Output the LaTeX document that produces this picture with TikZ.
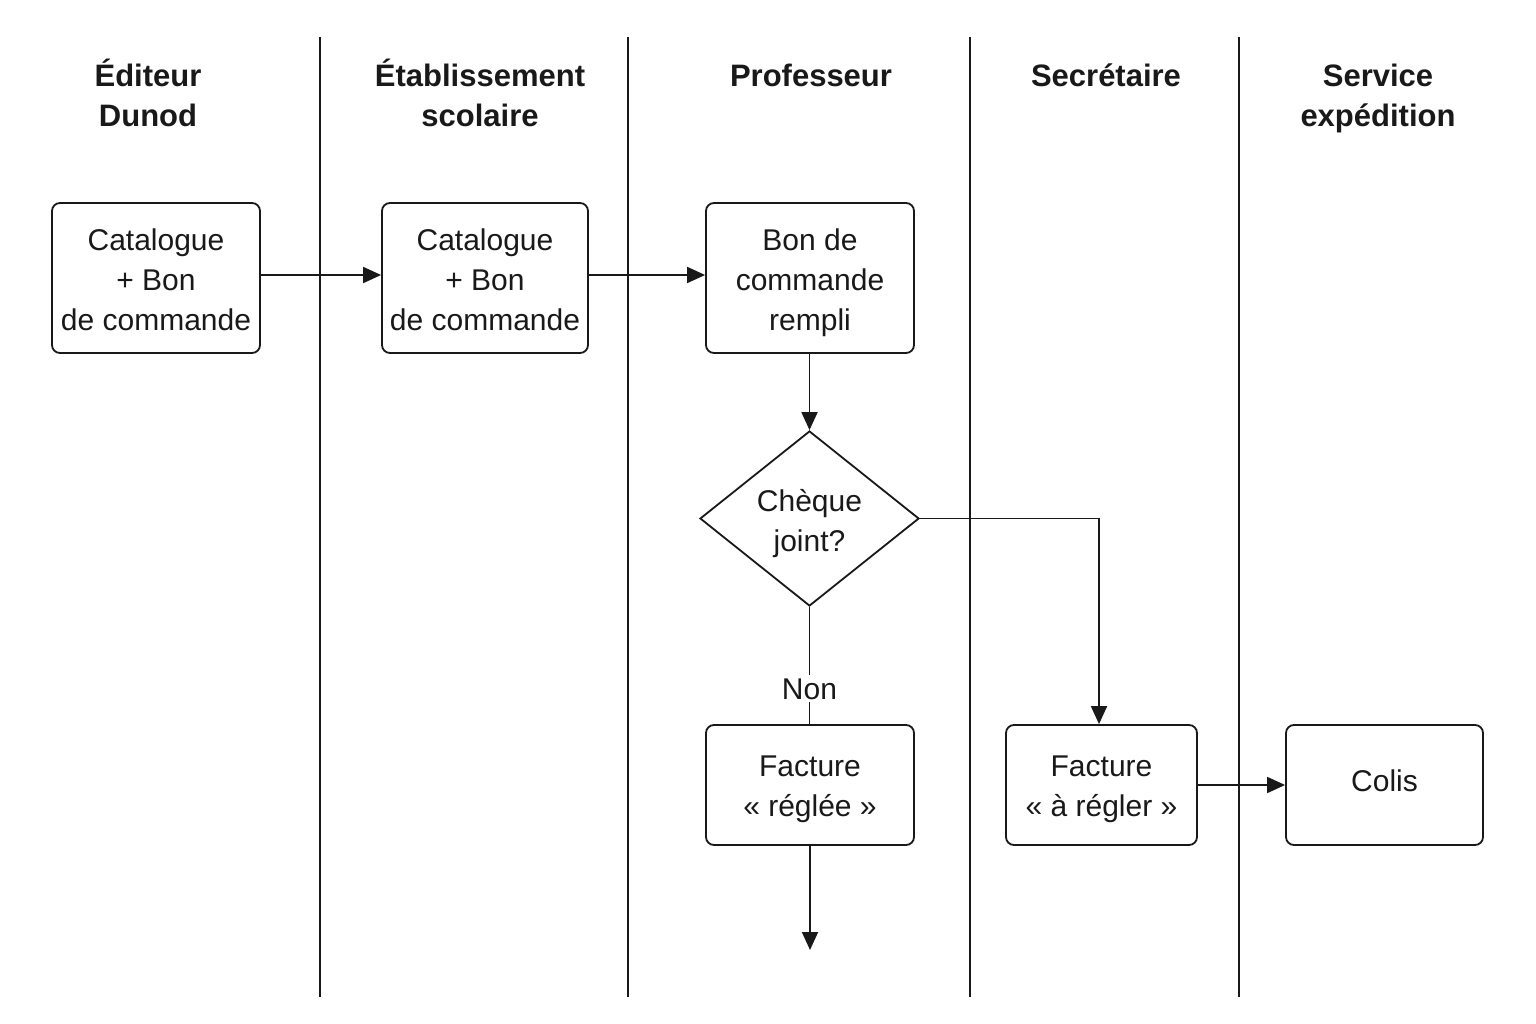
\documentclass[tikz,border=0pt]{standalone}
\usepackage{fontspec}
\setmainfont{Liberation Sans}
\usetikzlibrary{shapes.geometric,arrows.meta}
\begin{document}
\begin{tikzpicture}[x=1pt,y=-1pt,
  every node/.style={font=\fontsize{30}{40}\selectfont, text=black!90},
  lane/.style={line width=1.8pt, draw=black!90},
  head/.style={font=\fontsize{31}{40}\selectfont\bfseries, align=center, inner sep=0pt},
  lbl/.style={align=center, inner sep=0pt, font=\fontsize{30}{40}\selectfont},
  proc/.style={draw=black!90, line width=1.8pt, rounded corners=8pt, inner sep=0pt},
  choice/.style={draw=black!90, line width=1.8pt, diamond, inner sep=0pt, minimum width=219pt, minimum height=175pt},
  flow/.style={line width=1.8pt, draw=black!90, -{Triangle[length=18pt,width=16pt]}},
  plain/.style={line width=1.8pt, draw=black!90}
]
\useasboundingbox (0,0) rectangle (1536,1024);
\fill[white] (0,0) rectangle (1536,1024);

% lane separators
\foreach \x in {320,628,970,1239} \draw[lane] (\x,37) -- (\x,997);

% headings
\node[head] (h1) at (148,93) {Éditeur\\Dunod};
\node[head] (h2) at (480,93) {Établissement\\scolaire};
\node[head] (h3) at (811,75) {Professeur};
\node[head] (h4) at (1106,75) {Secrétaire};
\node[head] (h5) at (1378,98) {Service\\expédition};

% nodes
\node[proc, minimum width=208pt, minimum height=150pt,
  label={[lbl,yshift=-1.5pt]center:{Catalogue\\+ Bon\\de commande}}] (b1) at (156,278) {};
\node[proc, minimum width=206pt, minimum height=150pt,
  label={[lbl,yshift=-1.5pt]center:{Catalogue\\+ Bon\\de commande}}] (b2) at (485,278) {};
\node[proc, minimum width=208pt, minimum height=150pt,
  label={[lbl,yshift=-4.5pt]center:{Bon de\\commande\\rempli}}] (b3) at (810,278) {};
\node[choice, label={[lbl,yshift=-5pt]center:{Chèque\\joint?}}] (d) at (809.5,518.5) {};
\node[proc, minimum width=208pt, minimum height=120pt,
  label={[lbl,yshift=-4.5pt]center:{Facture\\« réglée »}}] (f1) at (810,785) {};
\node[proc, minimum width=191pt, minimum height=120pt,
  label={[lbl,yshift=-4.5pt]center:{Facture\\« à régler »}}] (f2) at (1101.5,785) {};
\node[proc, minimum width=197pt, minimum height=120pt,
  label={[lbl,yshift=4pt]center:{Colis}}] (c) at (1384.5,785) {};
\coordinate (end) at (810,950);

% connectors
\draw[flow] (b1.east |- 0,275) -- (b2.west |- 0,275);
\draw[flow] (b2.east |- 0,275) -- (b3.west |- 0,275);
\draw[flow] (b3.south -| d.north) -- (d.north);
\draw[plain] (d.south) -- node[pos=0.7, fill=white, inner sep=3pt] (non) {Non} (f1.north -| d.south);
\draw[flow] (d.east) -| (f2.north -| 1099,0);
\draw[flow] (f2.east) -- (c.west);
\draw[flow] (f1.south) -- (end);
\end{tikzpicture}
\end{document}
